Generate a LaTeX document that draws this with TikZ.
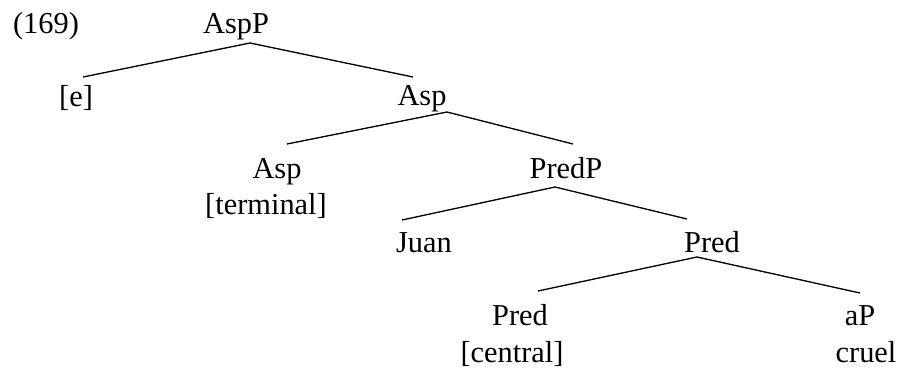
\documentclass[tikz,border=0pt]{standalone}
\usepackage{fontspec}
\setmainfont{Liberation Serif}
\usepackage{tikz}
\usetikzlibrary{calc}
\tikzset{
  lbl/.style={anchor=base, inner sep=0pt, font=\fontsize{17.3}{20}\selectfont},
  branch/.style={line width=0.75pt}
}

\begin{document}
\begin{tikzpicture}[x=0.02cm, y=-0.02cm]

  \useasboundingbox (0, 0) rectangle (899, 369);

  \node[lbl] (num) at (46, 33) { (169) };
  \node[lbl] (aspp) at (236, 33) { AspP };

  \node[lbl] (e) at (76, 106) { [e] };
  \node[lbl] (asp1) at (422, 105) { Asp };

  \node[lbl] (asp2) at (277, 178) { Asp };
  \node[lbl] (term) at (266, 214) { [terminal] };
  \node[lbl] (predp) at (566, 178) { PredP };

  \node[lbl] (juan) at (424, 252) { Juan };
  \node[lbl] (pred1) at (712, 252) { Pred };

  \node[lbl] (pred2) at (520, 325) { Pred };
  \node[lbl] (central) at (512, 362) { [central] };
  \node[lbl] (ap) at (860, 325) { aP };
  \node[lbl] (cruel) at (866, 362) { cruel };

  \draw [branch] ($(e.base)+(7,-29)$) -- ($(aspp.base)+(14,10)$) -- ($(asp1.base)+(-9,-28)$);
  \draw [branch] ($(asp2.base)+(10,-34)$) -- ($(asp1.base)+(25,7)$) -- ($(predp.base)+(7,-34)$);
  \draw [branch] ($(juan.base)+(-22,-32)$) -- ($(predp.base)+(-11,9)$) -- ($(pred1.base)+(-25,-33)$);
  \draw [branch] ($(pred2.base)+(18,-34)$) -- ($(pred1.base)+(-15,5)$) -- ($(ap.base)+(0,-32)$);

\end{tikzpicture}
\end{document}
